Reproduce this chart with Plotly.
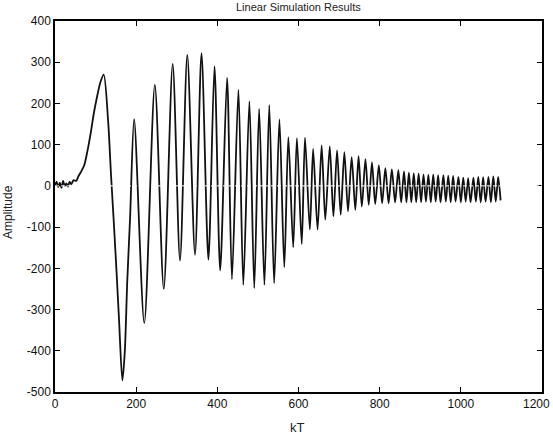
import plotly.graph_objects as go

# Values (extrema and a few shape points), kT vs amplitude
kt = [0, 4, 8, 12, 16, 20, 24, 28, 32, 36, 40, 46, 52, 58, 64, 72, 80, 88, 96, 104, 112,
      120, 131, 138, 145, 152, 158, 166, 172, 178, 185,
      195, 220, 246, 268, 290, 308, 326, 345, 361, 378, 393, 407, 424, 436, 452, 464,
      479, 491, 503, 516, 528, 540, 553, 565, 575, 587, 596, 608, 616, 628, 636, 647,
      657, 666, 677, 686, 695, 704, 713, 722, 731, 740, 748, 756, 765, 773, 781, 789,
      798, 806, 814, 822, 830, 838, 846, 853, 860, 866, 872, 878, 884, 890, 896, 902,
      908, 914, 920, 926, 932, 938, 944, 950, 957, 963, 969, 975, 981, 987, 994, 1000,
      1006, 1012, 1018, 1024, 1031, 1037, 1043, 1049, 1055, 1061, 1068, 1074, 1080,
      1086, 1092, 1098]
amplitude = [2, 10, -3, 8, -5, 12, 0, 6, -2, 10, 4, 14, 12, 24, 34, 50, 85, 128, 178, 218, 252,
             270, 156, 27, -90, -215, -329, -472, -402, -232, -78,
             162, -333, 245, -250, 296, -181, 318, -167, 322, -179, 290, -205, 262, -226, 233, -240,
             205, -248, 187, -240, 196, -236, 161, -197, 118, -149, 116, -141, 117, -106, 90, -106,
             98, -82, 96, -74, 86, -70, 82, -62, 70, -58, 72, -50, 65, -46, 57, -44,
             50, -42, 43, -42, 40, -40, 38, -40, 35, -40, 32, -40, 31, -40, 30, -40,
             28, -38, 27, -40, 28, -38, 26, -40, 26, -38, 25, -40, 24, -38, 22, -40,
             20, -38, 19, -40, 20, -38, 22, -40, 21, -38, 22, -40, 23,
             -38, 22, -35]

title_text = "Linear Simulation Results"
x_label = "kT"
y_label = "Amplitude"
x_ticks = [0, 200, 400, 600, 800, 1000, 1200]
y_ticks = [-500, -400, -300, -200, -100, 0, 100, 200, 300, 400]

fig = go.Figure()
fig.add_trace(go.Scatter(
    x=kt, y=amplitude, mode="lines",
    line=dict(color="#111111", width=1.8, shape="spline", smoothing=0.8),
    hoverinfo="skip", showlegend=False,
))

# white zero line drawn over the response
fig.add_shape(type="line", xref="x", yref="y", x0=0, x1=1200, y0=0, y1=0,
              line=dict(color="white", width=1, dash="4px,2px"), layer="above")

font = "Liberation Sans, Arial, sans-serif"
axis_common = dict(
    showgrid=False, zeroline=False, showline=True, linecolor="#000000", linewidth=1.5,
    mirror="ticks", ticks="inside", ticklen=5, tickcolor="#000000", tickwidth=1,
    tickfont=dict(family=font, size=12, color="#111111"), automargin=False,
)
# last x label (at the page edge) is drawn as an annotation kept inside the page
fig.update_xaxes(range=[0, 1200], tickvals=x_ticks,
                 ticktext=[str(v) if v != x_ticks[-1] else "" for v in x_ticks],
                 **axis_common)
fig.update_yaxes(range=[-500, 400], tickvals=y_ticks, ticktext=[str(v) for v in y_ticks],
                 **axis_common)

fig.update_layout(
    width=553, height=434,
    margin=dict(l=55, r=11, t=21, b=42),
    paper_bgcolor="white", plot_bgcolor="white",
    showlegend=False,
)

plot_h = 434 - 21 - 42
plot_w = 553 - 55 - 11
fig.add_annotation(text=str(x_ticks[-1]), xref="paper", yref="paper",
                   x=(552 - 55) / plot_w,
                   y=-(404 - 392) / plot_h, yanchor="middle", xanchor="right",
                   showarrow=False, font=dict(family=font, size=12, color="#111111"))
fig.add_annotation(text=title_text, xref="paper", yref="paper", x=0.5,
                   y=1 + (21 - 7) / plot_h, yanchor="middle", showarrow=False,
                   font=dict(family=font, size=11, color="#222222"))
fig.add_annotation(text=x_label, xref="paper", yref="paper", x=(297 - 55) / plot_w,
                   y=-(427 - 392) / plot_h, yanchor="middle", showarrow=False,
                   font=dict(family=font, size=13, color="#222222"))
fig.add_annotation(text=y_label, xref="paper", yref="paper", x=-(55 - 8) / plot_w,
                   y=(392 - 212) / plot_h, xanchor="center", yanchor="middle", textangle=-90,
                   showarrow=False, font=dict(family=font, size=12, color="#222222"))

fig.write_html("out.html")
